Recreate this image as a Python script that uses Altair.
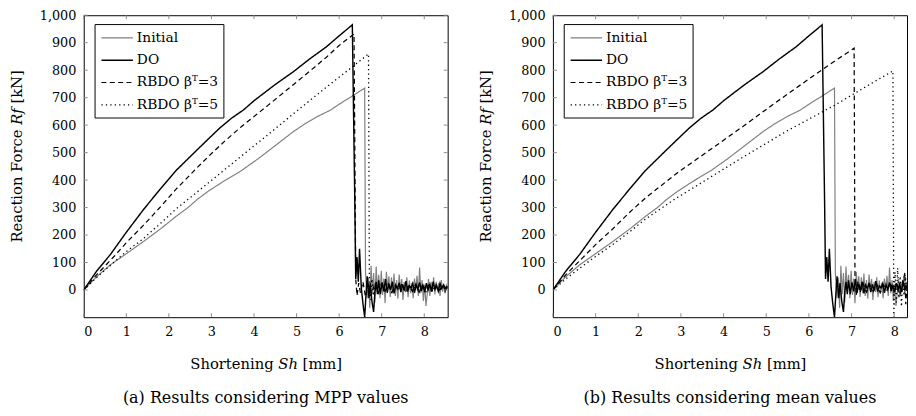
import altair as alt
import pandas as pd

FONT = "DejaVu Serif"
SERIES = ["Initial", "DO", "RBDO βᵀ=3", "RBDO βᵀ=5"]
COLORS = ["#808080", "#000000", "#000000", "#000000"]
DASHES = [[1, 0], [1, 0], [5, 3.5], [1.3, 3.2]]
WIDTHS = [1.2, 1.45, 1.25, 1.3]

X_TICKS = [0, 1, 2, 3, 4, 5, 6, 7, 8]
Y_TICKS = [0, 100, 200, 300, 400, 500, 600, 700, 800, 900, 1000]
YMIN = -99

# Initial design (same in both panels)
INIT_X = [0, 0.3, 0.63, 1.0, 1.4, 1.8, 2.17, 2.45, 2.67, 2.93, 3.3, 3.7, 4.1, 4.47, 4.93, 5.2,
          5.5, 5.8, 6.01, 6.3, 6.6, 6.62,
          6.66, 6.69, 6.72, 6.75, 6.78, 6.81, 6.84, 6.87,
          6.90, 6.93, 6.96, 6.99, 7.02, 7.05, 7.08, 7.11,
          7.14, 7.17, 7.20, 7.23, 7.26, 7.29, 7.32, 7.35,
          7.38, 7.41, 7.44, 7.47, 7.50, 7.53, 7.56, 7.59,
          7.62, 7.65, 7.68, 7.71, 7.74, 7.77, 7.80, 7.83,
          7.86, 7.89, 7.92, 7.95, 7.98, 8.01, 8.04, 8.07,
          8.10, 8.13, 8.16, 8.19, 8.22, 8.25, 8.28, 8.31,
          8.34, 8.37, 8.40, 8.43, 8.46, 8.49, 8.52, 8.55]
INIT_Y = [0, 48, 92, 132, 176, 222, 268, 300, 330, 360, 397, 434, 478, 522, 577, 605,
          632, 655, 677, 705, 735, 62,
          -30, 45, -65, 88, -15, 62, -45, 85,
          -5, 55, -30, 70, -18, 42, -48, 66,
          4, 50, -25, 46, -12, 60, -22, 36,
          -32, 56, 0, 40, -36, 30, -8, 46,
          -26, 34, -12, 26, -30, 42, -2, 52,
          -22, 82, -12, 36, -40, 20, -58, -14,
          40, -22, 30, -6, 46, -16, 30, 0,
          26, -22, 36, -6, 22, -12, 18, 10]

# Deterministic optimum (same in both panels)
DO_X = [0, 0.3, 0.63, 1.0, 1.4, 1.8, 2.17, 2.63, 2.93, 3.2, 3.47, 3.75, 4.01, 4.5, 4.93, 5.3,
        5.7, 6.0, 6.31,
        6.37, 6.39, 6.42, 6.45, 6.48, 6.52, 6.56, 6.60, 6.63, 6.66, 6.70, 6.73, 6.77, 6.81,
        6.84, 6.87, 6.90,
        6.93, 6.97, 7.01, 7.05, 7.09, 7.13, 7.17, 7.21,
        7.25, 7.29, 7.33, 7.37, 7.41, 7.45, 7.49, 7.53,
        7.57, 7.61, 7.65, 7.69, 7.73, 7.77, 7.81, 7.85,
        7.89, 7.93, 7.97, 8.01, 8.05, 8.09, 8.13, 8.17,
        8.21, 8.25, 8.29, 8.33, 8.37, 8.41, 8.45, 8.49,
        8.53, 8.57]
DO_Y = [0, 68, 130, 210, 292, 368, 435, 505, 550, 590, 625, 655, 690, 748, 795, 840,
        885, 925, 965,
        300, 40, 120, 30, 150, 10, -50, -99, -20, 50, -30, 25, -40, -80,
        -10, 30, -15,
        35, -15, 28, -5, 40, -10, 22, 0,
        30, -12, 18, 5, 26, -8, 20, -2,
        32, -6, 15, 8, 24, -10, 19, 2,
        28, -4, 16, -8, 25, 0, 20, -6,
        30, 2, 14, -5, 24, 6, 18, -3,
        12, 10]

# (a) MPP values
A3_X = [0, 0.3, 0.7, 1.0, 1.4, 1.8, 2.17, 2.63, 2.93, 3.3, 3.7, 4.32, 4.93, 5.3, 5.7, 6.0, 6.35, 6.39,
        6.42, 6.46, 6.50, 6.56, 6.62, 6.68, 6.76, 6.84, 6.92, 7.00,
        7.08, 7.16, 7.24, 7.32, 7.40, 7.48, 7.56, 7.64, 7.72, 7.80,
        7.88, 7.96, 8.04, 8.12, 8.20, 8.28, 8.36, 8.44, 8.52, 8.60]
A3_Y = [0, 55, 120, 172, 235, 302, 367, 440, 486, 540, 594, 671, 748, 795, 847, 890, 932, 40,
        -20, 25, -10, 30, -25, 20, -15, 25, -10, 20,
        -5, 22, -8, 18, 0, 24, -6, 16, -4, 20,
        -8, 18, 2, 22, -6, 16, 0, 20, 4, 10]
A5_X = [0, 0.3, 0.7, 1.0, 1.4, 1.8, 2.17, 2.93, 3.7, 4.39, 4.93, 5.7, 6.31, 6.69, 6.71,
        6.74, 6.77, 6.81, 6.86, 6.92, 7.00, 7.08, 7.16, 7.24, 7.32,
        7.40, 7.48, 7.56, 7.64, 7.72, 7.80, 7.88, 7.96, 8.04, 8.12,
        8.20, 8.28, 8.36, 8.44, 8.52, 8.60]
A5_Y = [0, 45, 100, 140, 187, 242, 295, 390, 487, 573, 642, 738, 812, 859, 55,
        -35, 40, -20, 30, -10, 25, -5, 20, -12, 15,
        2, 22, -8, 18, -4, 20, 0, 16, -6, 18,
        4, 20, -2, 14, 6, 10]

# (b) mean values
B3_X = [0, 0.3, 0.7, 1.0, 1.4, 1.8, 2.17, 2.93, 3.7, 4.47, 5.2, 6.0, 6.5, 7.06, 7.08,
        7.11, 7.15, 7.20, 7.27, 7.35, 7.43, 7.51, 7.59, 7.67, 7.75,
        7.83, 7.91, 7.99, 8.07, 8.15, 8.21, 8.25, 8.27, 8.30, 8.34]
B3_Y = [0, 55, 118, 165, 222, 283, 335, 428, 512, 597, 680, 768, 822, 880, 51,
        -20, 30, -10, 25, -8, 20, -5, 22, -10, 18,
        0, 24, -6, 20, -12, 35, 62, -52, 10, 5]
B5_X = [0, 0.3, 0.7, 1.0, 1.4, 1.8, 2.17, 2.86, 3.5, 4.47, 5.5, 6.6, 7.5, 7.97, 7.99,
        8.02, 8.05, 8.08, 8.11, 8.14, 8.17, 8.20, 8.23, 8.26, 8.29, 8.32, 8.36]
B5_Y = [0, 40, 88, 122, 165, 212, 258, 331, 392, 485, 580, 672, 755, 797, -99,
        65, -45, 80, -30, 50, -60, 40, -20, 55, -5, 20, 10]

TICK_C = "#8c8c8c"


def panel(curves, xmax, width, height, caption, right_ticks):
    rows = []
    for k, name in enumerate(SERIES):
        xs, ys = curves[k]
        for i, (a, b) in enumerate(zip(xs, ys)):
            rows.append({"x": a, "y": b, "s": name, "i": i})
    df = pd.DataFrame(rows)
    xsc = alt.Scale(domain=[0, xmax], nice=False, zero=False)
    ysc = alt.Scale(domain=[YMIN, 1000], nice=False, zero=False)
    xax = alt.Axis(values=X_TICKS, format="d", title="Shortening 𝑆ℎ [mm]",
                   labelPadding=9, titlePadding=18)
    yax = alt.Axis(values=Y_TICKS, format=",d", title="Reaction Force 𝑅𝑓 [kN]",
                   labelPadding=8, titlePadding=15, titleY=143)
    legend = alt.Legend(
        title=None, orient="none", legendX=11, legendY=9,
        symbolType="M-2,0H2", symbolSize=256, symbolOffset=9,
        labelOffset=11, padding=5, rowPadding=6.7,
        strokeColor="black", fillColor="white", cornerRadius=0,
        labelFont=FONT, labelFontSize=14, labelColor="black",
    )
    lines = alt.Chart(df).mark_line(clip=True, strokeJoin="miter").encode(
        x=alt.X("x:Q", scale=xsc, axis=xax),
        y=alt.Y("y:Q", scale=ysc, axis=yax),
        color=alt.Color("s:N", scale=alt.Scale(domain=SERIES, range=COLORS), legend=legend),
        strokeDash=alt.StrokeDash("s:N", scale=alt.Scale(domain=SERIES, range=DASHES)),
        strokeWidth=alt.StrokeWidth("s:N", scale=alt.Scale(type="ordinal", domain=SERIES, range=WIDTHS)),
        order="i:Q",
    )
    xt = alt.Chart(pd.DataFrame({"x": X_TICKS}))
    yt = alt.Chart(pd.DataFrame({"y": Y_TICKS}))
    bottom = xt.mark_rule(color=TICK_C, strokeWidth=1).encode(
        x=alt.X("x:Q", scale=xsc, axis=xax), y=alt.value(height), y2=alt.value(height - 4))
    top = xt.mark_rule(color=TICK_C, strokeWidth=1).encode(
        x=alt.X("x:Q", scale=xsc, axis=xax), y=alt.value(0), y2=alt.value(4))
    left = yt.mark_rule(color=TICK_C, strokeWidth=1).encode(
        y=alt.Y("y:Q", scale=ysc, axis=yax), x=alt.value(0), x2=alt.value(4))
    layers = [lines, bottom, top, left]
    if right_ticks:
        right = yt.mark_rule(color=TICK_C, strokeWidth=1).encode(
            y=alt.Y("y:Q", scale=ysc, axis=yax), x=alt.value(width), x2=alt.value(width - 4))
        layers.append(right)
    return alt.layer(*layers).properties(
        width=width, height=height,
        title=alt.TitleParams(text=caption, orient="bottom", anchor="middle", offset=19,
                              font=FONT, fontSize=16.2, fontWeight="normal", color="black"),
    )


pa = panel([(INIT_X, INIT_Y), (DO_X, DO_Y), (A3_X, A3_Y), (A5_X, A5_Y)],
           8.55, 370, 307, "(a) Results considering MPP values", True)
pb = panel([(INIT_X, INIT_Y), (DO_X, DO_Y), (B3_X, B3_Y), (B5_X, B5_Y)],
           8.3, 360, 307, "(b) Results considering mean values", False)

chart = alt.hconcat(pa, pb, spacing=30).resolve_scale(
    x="independent", y="independent", color="independent",
    strokeDash="independent", strokeWidth="independent",
).resolve_legend(color="independent", strokeDash="independent", strokeWidth="independent").properties(
    padding={"left": 1, "top": -3, "right": 0, "bottom": 0}
).configure(font=FONT).configure_view(stroke="black", strokeWidth=1).configure_axis(
    domain=False, ticks=False, grid=False,
    labelFont=FONT, labelFontSize=13, labelColor="black",
    titleFont=FONT, titleFontSize=15, titleFontWeight="normal", titleColor="black",
).configure_legend(labelFont=FONT, labelFontSize=14, labelColor="black")

chart.save("out.html", embed_options={"renderer": "svg", "actions": False})
